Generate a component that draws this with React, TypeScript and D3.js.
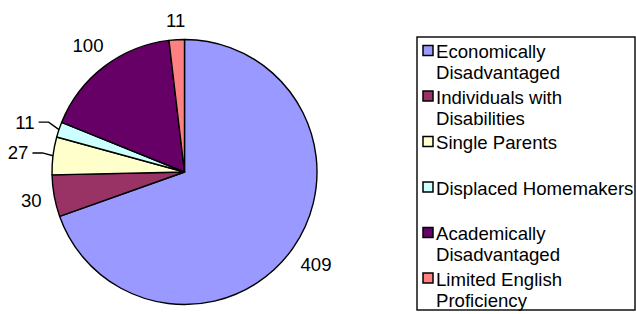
import React, { useEffect, useRef } from "react";
import * as d3 from "d3";

const categories = [
  "Economically Disadvantaged",
  "Individuals with Disabilities",
  "Single Parents",
  "Displaced Homemakers",
  "Academically Disadvantaged",
  "Limited English Proficiency",
];
const values = [409, 30, 27, 11, 100, 11];
const colors = ["#9999FF", "#993366", "#FFFFCC", "#CCFFFF", "#660066", "#FF8080"];

const W = 636;
const H = 314;
const FONT = "'Liberation Sans', Arial, sans-serif";

export default function App() {
  const ref = useRef<SVGSVGElement>(null);

  useEffect(() => {
    const svg = d3.select(ref.current);
    svg.selectAll("*").remove();

    const cx = 184.5;
    const cy = 172;
    const radius = 132.5;
    const total = d3.sum(values);

    const data = values.map((v, i) => ({ value: v, label: categories[i], color: colors[i] }));
    const pie = d3.pie<any>().value(d => d.value).sort(null);
    const arcs = pie(data);
    const arc = d3.arc<any>().innerRadius(0).outerRadius(radius);

    const g = svg.append("g").attr("transform", `translate(${cx},${cy})`);

    g.selectAll("path.slice")
      .data(arcs)
      .enter()
      .append("path")
      .attr("class", "slice")
      .attr("d", arc)
      .attr("fill", d => d.data.color)
      .attr("stroke", "#000")
      .attr("stroke-width", 1.4)
      .attr("stroke-linejoin", "round");

    // data labels
    const fs = 18.6;
    const labels = g.append("g");
    arcs.forEach(d => {
      const mid = (d.startAngle + d.endAngle) / 2;
      const s = Math.sin(mid);
      const c = Math.cos(mid);
      const txt = labels
        .append("text")
        .attr("font-family", FONT)
        .attr("font-size", fs)
        .attr("fill", "#000")
        .attr("dy", "0.35em")
        .text(String(d.value));
      const w = (txt.node() as SVGTextElement).getComputedTextLength();
      const h = 13;
      const r = radius + 12 + 0.5 * Math.abs(s) * w + 0.5 * Math.abs(c) * h;
      let x = r * s;
      const y = -r * c;
      const small = d.value / total < 0.05 && Math.abs(s) > 0.9;
      if (small) {
        // pushed out horizontally, with a leader line back to the slice
        x += s < 0 ? -12 : 12;
        const end = s < 0 ? x + w / 2 : x - w / 2;
        const dir = s < 0 ? 1 : -1;
        const px = radius * s;
        const py = -radius * c;
        labels
          .append("polyline")
          .attr("points", [[px, py], [end + dir * 14, y], [end + dir * 4, y]].map(p => p.join(",")).join(" "))
          .attr("fill", "none")
          .attr("stroke", "#000")
          .attr("stroke-width", 1.4);
      }
      txt.attr("x", x).attr("y", y).attr("text-anchor", "middle");
    });

    // legend
    const lx = 417;
    const ly = 37;
    const lw = 218;
    const lh = 273;
    svg
      .append("rect")
      .attr("x", lx)
      .attr("y", ly)
      .attr("width", lw)
      .attr("height", lh)
      .attr("fill", "#fff")
      .attr("stroke", "#000")
      .attr("stroke-width", 1.4);

    const slot = lh / categories.length;
    const maxW = 200;
    categories.forEach((cat, i) => {
      const base = ly + 21 + i * slot;
      const item = svg.append("g");
      item
        .append("rect")
        .attr("x", lx + 6)
        .attr("y", base - 12.5)
        .attr("width", 10)
        .attr("height", 10)
        .attr("fill", colors[i])
        .attr("stroke", "#000")
        .attr("stroke-width", 1.5);
      const t = item
        .append("text")
        .attr("font-family", FONT)
        .attr("font-size", fs)
        .attr("fill", "#000")
        .attr("x", lx + 19)
        .attr("y", base);
      // greedy word wrap
      const words = cat.split(" ");
      let line: string[] = [];
      let row = 0;
      let tspan = t.append("tspan").attr("x", lx + 19).attr("y", base);
      words.forEach(word => {
        line.push(word);
        tspan.text(line.join(" "));
        if ((tspan.node() as SVGTSpanElement).getComputedTextLength() > maxW && line.length > 1) {
          line.pop();
          tspan.text(line.join(" "));
          line = [word];
          row += 1;
          tspan = t.append("tspan").attr("x", lx + 19).attr("y", base + row * 21).text(word);
        }
      });
    });
  }, []);

  return (
    <div style={{ position: "absolute", left: 0, top: 0 }}>
      <svg ref={ref} width={W} height={H} style={{ display: "block", background: "#fff" }} />
    </div>
  );
}
